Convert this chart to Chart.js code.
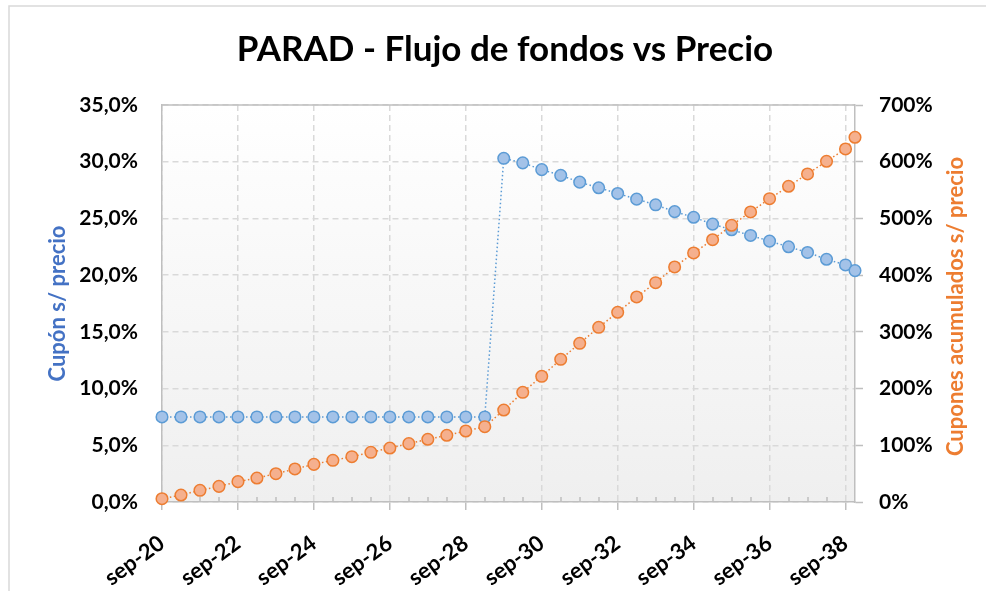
<!DOCTYPE html>
<html>
<head>
<meta charset="utf-8">
<script src="https://cdn.jsdelivr.net/npm/chart.js@4.4.1/dist/chart.umd.min.js"></script>
<style>
html,body{margin:0;padding:0;background:#fff;}
canvas{display:block;}
</style>
</head>
<body>
<canvas id="c" width="986" height="591"></canvas>
<script>
// ---- Data ----
const fechas = [
  'sep-20','mar-21','sep-21','mar-22','sep-22','mar-23','sep-23','mar-24','sep-24','mar-25',
  'sep-25','mar-26','sep-26','mar-27','sep-27','mar-28','sep-28','mar-29','sep-29','mar-30',
  'sep-30','mar-31','sep-31','mar-32','sep-32','mar-33','sep-33','mar-34','sep-34','mar-35',
  'sep-35','mar-36','sep-36','mar-37','sep-37','mar-38','sep-38','dic-38'
];
// Cupón s/ precio (%), left axis
const cuponSobrePrecio = [
  7.5, 7.5, 7.5, 7.5, 7.5, 7.5, 7.5, 7.5, 7.5, 7.5,
  7.5, 7.5, 7.5, 7.5, 7.5, 7.5, 7.5, 7.5, 30.3, 29.9,
  29.3, 28.8, 28.2, 27.7, 27.2, 26.7, 26.2, 25.6, 25.1, 24.5,
  24.0, 23.5, 23.0, 22.5, 22.0, 21.4, 20.9, 20.4
];
// Cupones acumulados s/ precio (%), right axis
const cuponesAcumulados = [
  5.8, 12.3, 20.6, 27.6, 35.9, 42.3, 49.9, 58.2, 66.4, 73.5,
  79.9, 87.6, 95.2, 102.9, 110.6, 117.6, 125.2, 132.8, 162.2, 193.4,
  221.6, 251.6, 279.8, 308.0, 334.5, 361.5, 386.7, 414.4, 439.1, 462.5,
  487.9, 511.4, 534.8, 556.7, 578.4, 600.8, 622.5, 643.1
];
const xTickLabels = ['sep-20','sep-22','sep-24','sep-26','sep-28','sep-30','sep-32','sep-34','sep-36','sep-38'];
const leftAxisRange = [0, 35, 5];    // min, max, step (%)
const rightAxisRange = [0, 700, 100];

const titulo = 'PARAD - Flujo de fondos vs Precio';
const tituloIzq = 'Cupón s/ precio';
const tituloDer = 'Cupones acumulados s/ precio';

// ---- helpers ----
const MESES = ['ene','feb','mar','abr','may','jun','jul','ago','sep','oct','nov','dic'];
function aMeses(s){ const p = s.split('-'); return (parseInt(p[1],10)-20)*12 + MESES.indexOf(p[0]) - 8; }
const xs = fechas.map(aMeses);
const xTickVals = xTickLabels.map(aMeses);

const BLUE = '#5B9BD5', BLUE_FILL = '#A3C2E8';
const ORANGE = '#ED7D31', ORANGE_FILL = '#F5B08E';
const GRID = '#D9D9D9', AXIS = '#BFBFBF';
const FONT = 'Lato';

Chart.defaults.font.family = FONT;

const plotFrame = {
  id: 'plotFrame',
  beforeDraw(chart){
    const {ctx, chartArea:a, width, height} = chart;
    ctx.save();
    ctx.fillStyle = '#fff';
    ctx.fillRect(0,0,width,height);
    ctx.strokeStyle = '#D9D9D9';
    ctx.lineWidth = 1.5;
    ctx.strokeRect(9, 6, width+20, height+20);
    const g = ctx.createLinearGradient(0, a.top, 0, a.bottom);
    g.addColorStop(0, '#FFFFFF');
    g.addColorStop(1, '#EFEFEF');
    ctx.fillStyle = g;
    ctx.fillRect(a.left, a.top, a.right-a.left, a.bottom-a.top);
    ctx.restore();
  },
  beforeDatasetsDraw(chart){
    const {ctx, chartArea:a, scales} = chart;
    const x = scales.x;
    ctx.save();
    ctx.strokeStyle = AXIS;
    ctx.lineWidth = 1.5;
    ctx.beginPath();
    ctx.moveTo(a.left, a.top); ctx.lineTo(a.right, a.top);
    ctx.stroke();
    // minor (semester) ticks inside the plot
    ctx.beginPath();
    for (let v = x.min; v <= x.max; v += 6) {
      if (xTickVals.indexOf(v) >= 0) continue;
      const px = Math.round(x.getPixelForValue(v));
      ctx.moveTo(px, a.bottom); ctx.lineTo(px, a.bottom - 5);
    }
    ctx.stroke();
    ctx.restore();
  },
  afterDraw(chart){
    const {ctx, chartArea:a} = chart;
    ctx.save();
    ctx.fillStyle = ORANGE;
    ctx.font = 'bold 22px ' + FONT;
    ctx.textAlign = 'center';
    ctx.textBaseline = 'middle';
    ctx.translate(a.right + 101, (a.top + a.bottom)/2 + 3);
    ctx.rotate(-Math.PI/2);
    ctx.fillText(tituloDer, 0, 0);
    ctx.restore();
  }
};

const tickFont = {family: FONT, weight: 'bold', size: 21};

new Chart(document.getElementById('c'), {
  type: 'line',
  data: {
    datasets: [
      {
        label: tituloIzq,
        data: xs.map((v,i)=>({x:v, y:cuponSobrePrecio[i]})),
        yAxisID: 'yL',
        borderColor: BLUE,
        borderWidth: 1.5,
        borderDash: [1.5, 2.5],
        pointRadius: 5.8,
        pointBackgroundColor: BLUE_FILL,
        pointBorderColor: BLUE,
        pointBorderWidth: 1.5,
        tension: 0,
        clip: false,
        order: 2
      },
      {
        label: tituloDer,
        data: xs.map((v,i)=>({x:v, y:cuponesAcumulados[i]})),
        yAxisID: 'yR',
        borderColor: ORANGE,
        borderWidth: 1.5,
        borderDash: [1.5, 2.5],
        pointRadius: 5.8,
        pointBackgroundColor: ORANGE_FILL,
        pointBorderColor: ORANGE,
        pointBorderWidth: 1.5,
        tension: 0,
        clip: false,
        order: 1
      }
    ]
  },
  options: {
    responsive: false,
    animation: false,
    devicePixelRatio: 1,
    layout: {padding: {left: 24, top: 0, right: 0, bottom: 0}},
    plugins: {
      legend: {display: false},
      tooltip: {enabled: false},
      title: {
        display: true,
        text: titulo,
        color: '#000',
        font: {family: FONT, weight: 'bold', size: 35, lineHeight: 1.2},
        padding: {top: 29, bottom: 34}
      }
    },
    scales: {
      x: {
        type: 'linear',
        min: xs[0],
        max: xs[xs.length-1],
        afterBuildTicks(scale){ scale.ticks = xTickVals.map(v=>({value:v})); },
        afterFit(scale){ scale.height = 89; },
        ticks: {
          autoSkip: false,
          includeBounds: false,
          minRotation: 36,
          maxRotation: 36,
          padding: 20,
          color: '#000',
          font: {family: FONT, weight: 'bold', size: 22},
          callback(value, index){ return xTickLabels[index]; }
        },
        grid: {
          color: GRID,
          lineWidth: 1.5,
          drawTicks: true,
          tickLength: 8,
          tickColor: AXIS,
          tickWidth: 1.5
        },
        border: {display: true, color: AXIS, width: 1.5, dash: [6, 4]}
      },
      yL: {
        type: 'linear',
        position: 'left',
        min: leftAxisRange[0],
        max: leftAxisRange[1],
        afterFit(scale){ scale.width = 138; },
        ticks: {
          stepSize: leftAxisRange[2],
          padding: 24,
          color: '#000',
          font: tickFont,
          callback(v){ return v.toFixed(1).replace('.', ',') + '%'; }
        },
        grid: {
          color: GRID,
          lineWidth: 1.5,
          drawTicks: false
        },
        border: {display: true, color: AXIS, width: 1.5, dash: [6, 4]},
        title: {
          display: true,
          text: tituloIzq,
          color: '#4472C4',
          font: {family: FONT, weight: 'bold', size: 22, lineHeight: 1.2},
          padding: {top: 21, bottom: 0}
        }
      },
      yR: {
        type: 'linear',
        position: 'right',
        min: rightAxisRange[0],
        max: rightAxisRange[1],
        afterFit(scale){ scale.width = 131; },
        ticks: {
          stepSize: rightAxisRange[2],
          padding: 16,
          color: '#000',
          font: tickFont,
          callback(v){ return Math.round(v) + '%'; }
        },
        grid: {
          drawOnChartArea: false,
          drawTicks: true,
          tickLength: 8,
          color: AXIS,
          tickColor: AXIS,
          tickWidth: 1.5
        },
        border: {display: true, color: AXIS, width: 1.5}
      }
    }
  },
  plugins: [plotFrame]
});
</script>
</body>
</html>
